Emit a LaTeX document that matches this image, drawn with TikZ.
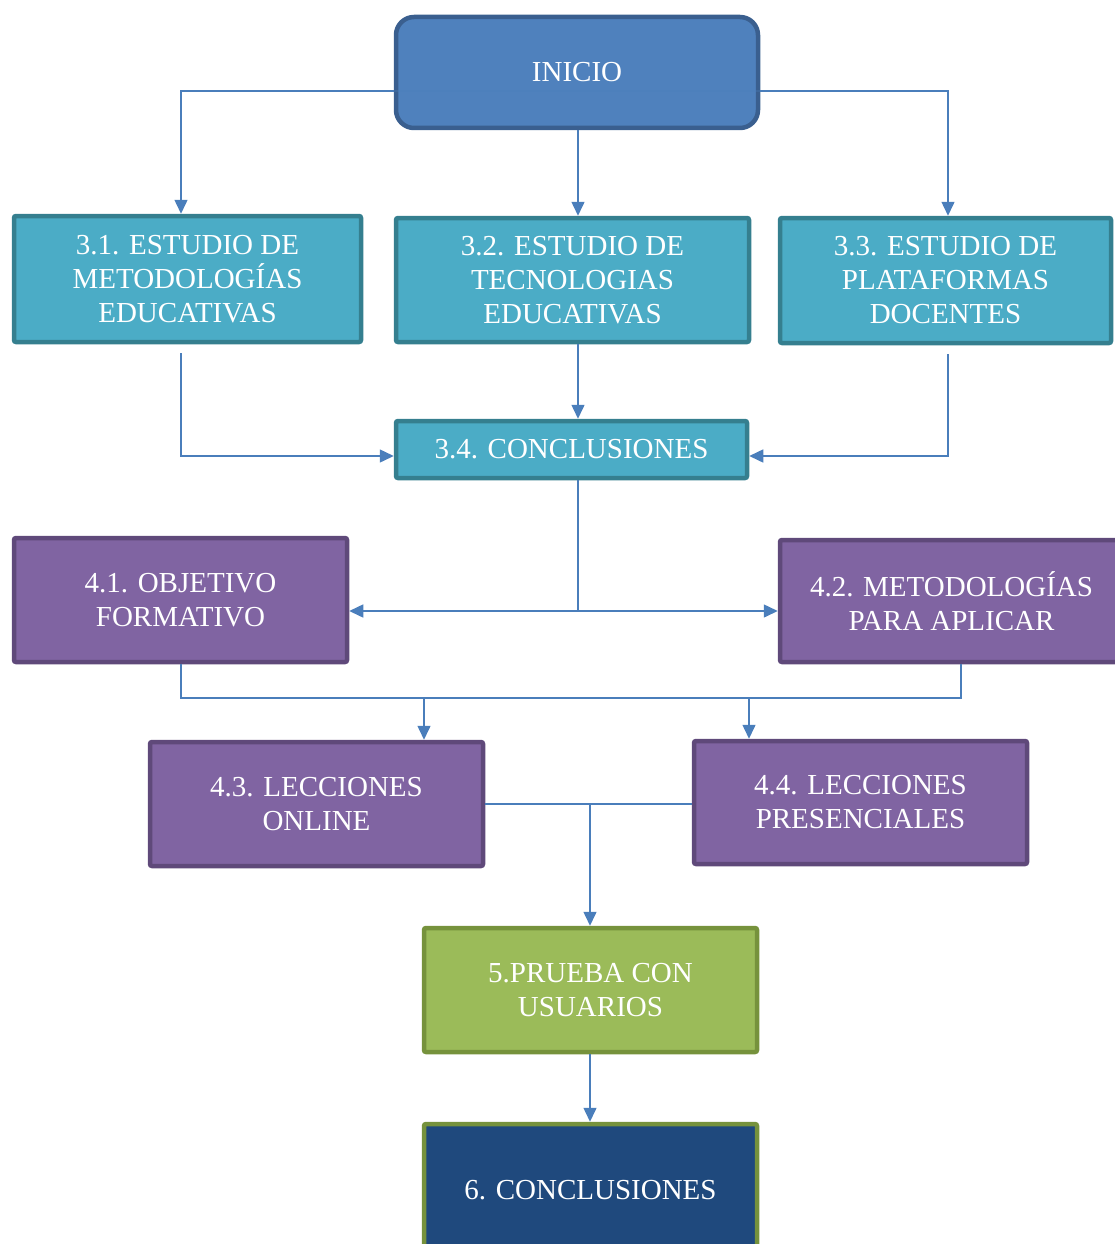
\documentclass[tikz,border=0pt]{standalone}
\usepackage{fontspec}
\setmainfont{Liberation Serif}
\usetikzlibrary{arrows.meta,calc}
\definecolor{inifill}{HTML}{4F81BD}
\definecolor{inidraw}{HTML}{3A5F8F}
\definecolor{tealfill}{HTML}{4BACC6}
\definecolor{tealdraw}{HTML}{357F8F}
\definecolor{purpfill}{HTML}{8064A2}
\definecolor{purpdraw}{HTML}{5F497A}
\definecolor{greenfill}{HTML}{9BBB59}
\definecolor{greendraw}{HTML}{76923C}
\definecolor{navyfill}{HTML}{1F497D}
\definecolor{linec}{HTML}{4A7EBB}
\begin{document}
\begin{tikzpicture}[x=1pt,y=-1pt,
  box/.style={draw, line width=4.5pt, inner sep=0pt, align=center, text=white,
    font=\fontsize{29}{34}\selectfont, rounded corners=2pt},
  tealbox/.style={box, fill=tealfill, draw=tealdraw},
  purpbox/.style={box, fill=purpfill, draw=purpdraw},
  conn/.style={draw=linec, line width=1.5pt},
  arr/.style={conn, -{Triangle[width=13pt,length=14pt]}}]
\useasboundingbox (0,0) rectangle (1115,1244);
\clip (0,0) rectangle (1115,1244);
% nodes
\node[box, fill=inifill, draw=inidraw, rounded corners=18pt, minimum width=362pt, minimum height=111pt] (ini) at (577,72.5) {INICIO};
\node[tealbox, minimum width=347pt, minimum height=126pt] (a31) at (187.5,279) {3.1. ESTUDIO DE\\METODOLOGÍAS\\EDUCATIVAS};
\node[tealbox, minimum width=353pt, minimum height=124pt] (a32) at (572.5,280) {3.2. ESTUDIO DE\\TECNOLOGIAS\\EDUCATIVAS};
\node[tealbox, minimum width=331pt, minimum height=125pt] (a33) at (945.5,280.5) {3.3. ESTUDIO DE\\PLATAFORMAS\\DOCENTES};
\node[tealbox, minimum width=351pt, minimum height=57pt] (a34) at (571.5,449.5) {3.4. CONCLUSIONES};
\node[purpbox, minimum width=333pt, minimum height=124pt] (b41) at (180.5,600) {4.1. OBJETIVO\\FORMATIVO};
\node[purpbox, minimum width=343pt, minimum height=122pt] (b42) at (951.5,601) {4.2. METODOLOGÍAS\\PARA APLICAR};
\node[purpbox, minimum width=333pt, minimum height=124pt] (b43) at (316.5,804) {4.3. LECCIONES\\ONLINE};
\node[purpbox, minimum width=333pt, minimum height=123pt] (b44) at (860.5,802.5) {4.4. LECCIONES\\PRESENCIALES};
\node[box, fill=greenfill, draw=greendraw, minimum width=333pt, minimum height=124pt] (c5) at (590.5,990) {5.PRUEBA CON\\USUARIOS};
\node[box, fill=navyfill, draw=greendraw, minimum width=333pt, minimum height=132pt] (c6) at (590.5,1190) {6. CONCLUSIONES};
% coordinates
\coordinate (j1) at (181,91);
\coordinate (j2) at (948,91);
\coordinate (cx) at (578,0);
\coordinate (j3) at (181,456);
\coordinate (j4) at (948,456);
\coordinate (j5) at (578,611);
\coordinate (j6) at (181,698);
\coordinate (j7) at (961,698);
\coordinate (k1) at (424,698);
\coordinate (k2) at (749,698);
\coordinate (j8) at (590,804);
% connectors
\draw[conn, opacity=0.3] (ini.west |- j1) -- (ini.east |- j2);
\draw[arr] (ini.west |- j1) -- (j1) -- (j1 |- a31.north);
\draw[arr] (ini.east |- j2) -- (j2) -- (j2 |- a33.north);
\draw[arr] (cx |- ini.south) -- (cx |- a32.north);
\draw[arr] ([yshift=-9pt]j1 |- a31.south) -- (j3) -- (j3 -| a34.west);
\draw[arr] ([yshift=-9pt]j2 |- a33.south) -- (j4) -- (j4 -| a34.east);
\draw[arr] (cx |- a32.south) -- (cx |- a34.north);
\draw[conn] (cx |- a34.south) -- (j5);
\draw[arr] (j5) -- (j5 -| b41.east);
\draw[arr] (j5) -- (j5 -| b42.west);
\draw[conn] (j6 |- b41.south) -- (j6) -- (j7) -- (j7 |- b42.south);
\draw[arr] (k1) -- (k1 |- b43.north);
\draw[arr] (k2) -- (k2 |- b44.north);
\draw[conn] (b43.east |- j8) -- (b44.west |- j8);
\draw[arr] (j8) -- (j8 |- c5.north);
\draw[arr] (j8 |- c5.south) -- (j8 |- c6.north);
\end{tikzpicture}
\end{document}
